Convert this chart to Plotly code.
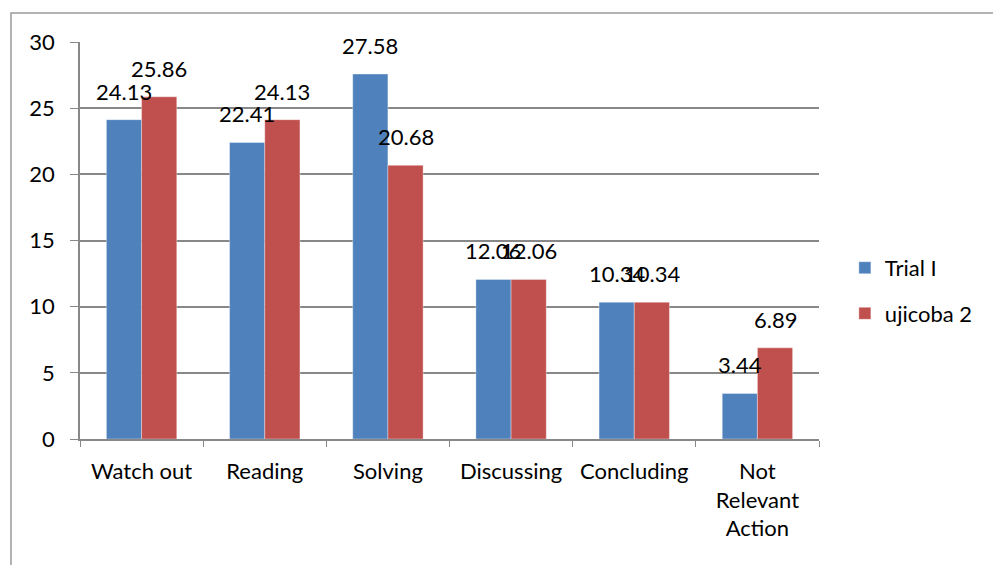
import plotly.graph_objects as go

# Observation categories and percentages per cycle
categories = ["Watch out", "Reading", "Solving", "Discussing", "Concluding",
              "Not<br>Relevant<br>Action"]
trial_1 = [24.13, 22.41, 27.58, 12.06, 10.34, 3.44]
ujicoba_2 = [25.86, 24.13, 20.68, 12.06, 10.34, 6.89]
series_names = ["Trial I", "ujicoba 2"]
y_ticks = [0, 5, 10, 15, 20, 25, 30]

BLUE = "#4F81BD"
RED = "#C0504D"
FONT = "Lato, 'Open Sans', sans-serif"
FS = 22

W, H = 993, 565
L, R, T, B = 80, 174, 42, 126
plot_w = W - L - R
slot = plot_w / len(categories)
bar_w = slot / 3.5

fig = go.Figure()
for name, vals, col in [(series_names[0], trial_1, BLUE), (series_names[1], ujicoba_2, RED)]:
    fig.add_trace(go.Bar(
        x=categories, y=vals, name=name, legendgroup=name,
        marker=dict(color=col, line=dict(color="rgba(255,255,255,0.6)", width=0.6)),
    ))

# value labels above each bar
for vals, shift in [(trial_1, -bar_w / 2), (ujicoba_2, bar_w / 2)]:
    for c, v in zip(categories, vals):
        fig.add_annotation(x=c, y=v, text=f"{v:.2f}", showarrow=False,
                           xshift=shift, yanchor="bottom", yshift=13,
                           font=dict(family=FONT, size=FS, color="#000"))

# outer chart frame
fig.add_shape(type="rect", xref="paper", yref="paper",
              x0=(11 - L) / plot_w, x1=1.5, y0=-0.6, y1=1 + (T - 13) / (H - T - B),
              line=dict(color="#9a9a9a", width=1.5), fillcolor="rgba(0,0,0,0)")

fig.update_layout(
    width=W, height=H,
    margin=dict(l=L, r=R, t=T, b=B, autoexpand=False),
    paper_bgcolor="white", plot_bgcolor="white",
    barmode="group", bargap=1.5 / 3.5, bargroupgap=0,
    font=dict(family=FONT, size=FS, color="#000"),
    showlegend=True,
    legend=dict(x=1.035, y=0.373, xanchor="left", yanchor="middle",
                font=dict(size=FS), tracegroupgap=14, bgcolor="rgba(0,0,0,0)"),
    xaxis=dict(type="category", tickson="boundaries", ticks="outside", ticklen=6,
               tickcolor="#888", showline=True, linecolor="#888", linewidth=1.5,
               showgrid=False, ticklabelstandoff=12,
               tickfont=dict(family=FONT, size=FS, color="#000")),
    yaxis=dict(range=[0, 30], tickvals=y_ticks, ticks="outside", ticklen=8,
               tickcolor="#888", showline=True, linecolor="#888", linewidth=1.5,
               showgrid=True, gridcolor="#888", gridwidth=1.5, zeroline=False,
               ticklabelstandoff=11,
               tickfont=dict(family=FONT, size=FS, color="#000")),
)

fig.write_html("out.html")
